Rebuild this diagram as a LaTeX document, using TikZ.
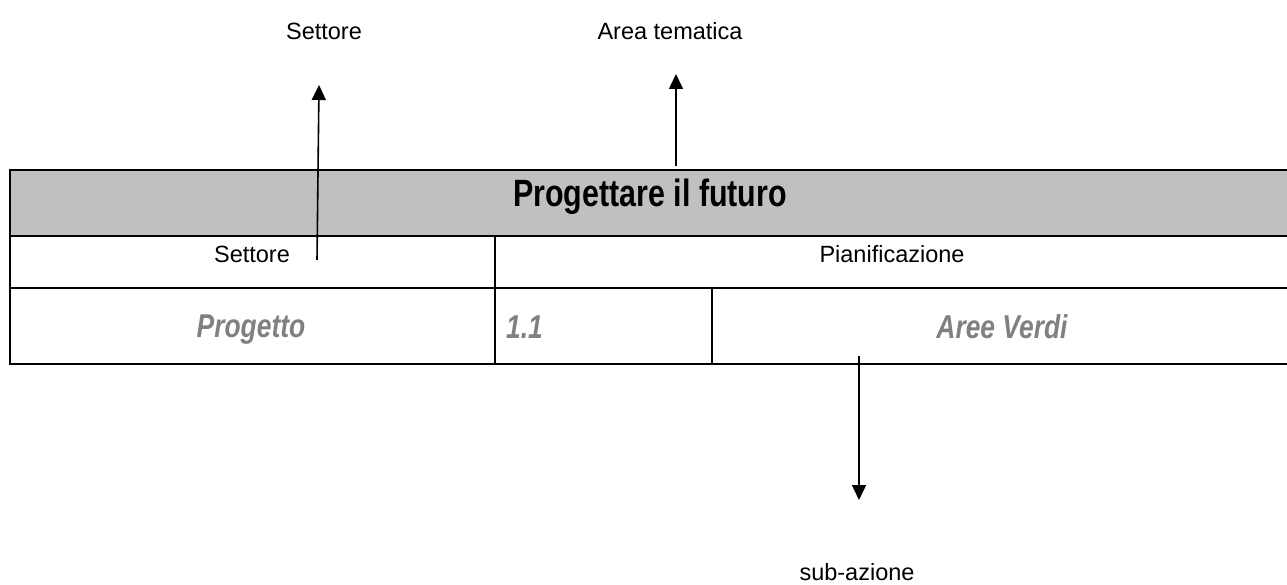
\documentclass[tikz,border=0pt]{standalone}
\usepackage{fontspec}
\setmainfont{Liberation Sans}
\newfontfamily\narrowfont{Liberation Sans}[FakeStretch=0.8]
\usepackage{tikz}
\usetikzlibrary{arrows.meta}
\definecolor{headgray}{HTML}{C0C0C0}
\definecolor{valgray}{HTML}{808080}

\begin{document}
\begin{tikzpicture}[x=1pt,y=-1pt,
	cell/.style={draw,line width=2.6pt,anchor=north west,inner sep=0pt,outer sep=0pt},
	txt/.style={anchor=base,inner sep=0pt,font=\fontsize{23.5}{28}\selectfont},
	val/.style={anchor=base,inner sep=0pt,text=valgray,font=\narrowfont\bfseries\itshape\fontsize{33}{40}\selectfont},
	arr/.style={line width=1.6pt,-{Triangle[length=15pt,width=14pt]}}]
	\useasboundingbox (0,0) rectangle (1287,585);
	%% table (right edge runs off the page)
	\node[cell,fill=headgray,minimum width=1281pt,minimum height=66pt] (head) at (10,170) {};
	\node[cell,minimum width=485pt,minimum height=52pt] (settoreCell) at (10,236) {};
	\node[cell,minimum width=796pt,minimum height=52pt] (pianifCell) at (495,236) {};
	\node[cell,minimum width=485pt,minimum height=76pt] (progettoCell) at (10,288) {};
	\node[cell,minimum width=217pt,minimum height=76pt] (numCell) at (495,288) {};
	\node[cell,minimum width=579pt,minimum height=76pt] (areeCell) at (712,288) {};
	%% texts in the table
	\node[anchor=base,inner sep=0pt,font=\narrowfont\bfseries\fontsize{38}{44}\selectfont] (titolo) at (650,207) {Progettare il futuro};
	\node[txt] (settoreTxt) at (252,262) {Settore};
	\node[txt] (pianifTxt) at (892,262) {Pianificazione};
	\node[val] (progettoTxt) at (251,337) {Progetto};
	\node[val,anchor=base west] (numTxt) at (506,338) {1.1};
	\node[val] (areeTxt) at (1002,338) {Aree Verdi};
	%% labels outside
	\node[txt] (settoreLbl) at (324,40) {Settore};
	\node[txt] (areaLbl) at (670,40) {Area tematica};
	\node[txt] (subLbl) at (857,580) {sub-azione};
	%% arrows
	\coordinate (settoreFoot) at (317,260);
	\coordinate (settoreTip) at (319,85);
	\coordinate (areaFoot) at (676,166);
	\coordinate (areaTip) at (676,74);
	\coordinate (subFoot) at (859,356);
	\coordinate (subTip) at (859,500);
	\draw[arr] (settoreFoot) -- (settoreTip);
	\draw[arr] (areaFoot) -- (areaTip);
	\draw[arr] (subFoot) -- (subTip);
\end{tikzpicture}
\end{document}
